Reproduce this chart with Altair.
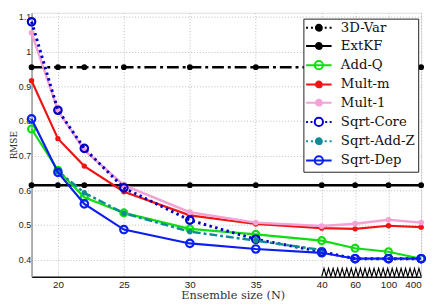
import altair as alt
import numpy as np
import pandas as pd

# ---------------- data ----------------
ensemble_sizes = [18, 20, 22, 25, 30, 35, 40, 60, 100, 400]
x_tick_values = [20, 25, 30, 35, 40, 60, 100, 400]
y_tick_values = [0.4, 0.5, 0.6, 0.7, 0.8, 0.9, 1.0, 1.1]

series_names = ["3D-Var", "ExtKF", "Add-Q", "Mult-m", "Mult-1",
                "Sqrt-Core", "Sqrt-Add-Z", "Sqrt-Dep"]

rmse_3dvar = [0.955, 0.955, 0.955, 0.955, 0.955, 0.955, 0.955, 0.955, 0.955, 0.955]
rmse_extkf = [0.615, 0.615, 0.615, 0.615, 0.615, 0.615, 0.615, 0.615, 0.615, 0.615]
rmse_addq = [0.777, 0.658, 0.580, 0.535, 0.489, 0.473, 0.455, 0.433, 0.423, 0.403]
rmse_multm = [0.916, 0.749, 0.670, 0.596, 0.528, 0.503, 0.491, 0.489, 0.498, 0.494]
rmse_mult1 = [1.054, 0.830, 0.716, 0.615, 0.537, 0.507, 0.497, 0.504, 0.515, 0.507]
rmse_sqrtcore = [1.086, 0.831, 0.721, 0.607, 0.514, 0.459, 0.423, 0.403, 0.403, 0.403]
sizes_sqrtaddz = [20, 22, 25, 30, 35, 40]
rmse_sqrtaddz = [0.655, 0.593, 0.534, 0.481, 0.455, 0.428]
rmse_sqrtdep = [0.806, 0.652, 0.561, 0.487, 0.447, 0.431, 0.420, 0.403, 0.403, 0.403]

series_x = [ensemble_sizes] * 5 + [ensemble_sizes, sizes_sqrtaddz, ensemble_sizes]
series_y = [rmse_3dvar, rmse_extkf, rmse_addq, rmse_multm, rmse_mult1,
            rmse_sqrtcore, rmse_sqrtaddz, rmse_sqrtdep]

# ---------------- styles ----------------
colors = ["#000000", "#000000", "#10dd10", "#f01414", "#f4a2d6",
          "#0000c8", "#0e8c96", "#0a1ef0"]
dashes = [[12, 4, 3, 4], None, None, None, None, [2.5, 3.5], [8, 3, 3, 3], None]
line_widths = [2.5, 2.5, 2.2, 2.2, 2.5, 3, 2.5, 2.2]
marker_filled = [True, True, False, True, True, False, True, False]
marker_sizes = [34, 34, 50, 30, 34, 58, 30, 58]
fill_range = ["#000000", "#000000", "transparent", "#f01414", "#f4a2d6",
              "transparent", "#0e8c96", "transparent"]

# legend symbols: line + marker glyphs (unit = 5.5 px)
U = 5.5
def seg(a, b):
    return f"M{a / U:.3f},0H{b / U:.3f}"
def circ(r_px):
    r = r_px / U
    return f"M{r:.3f},0A{r:.3f},{r:.3f},0,1,1,{-r:.3f},0A{r:.3f},{r:.3f},0,1,1,{r:.3f},0Z"
solid = seg(-13, 13)
dotted = seg(-13, -11) + seg(-8, -6) + seg(-3, 3) + seg(6, 8) + seg(11, 13)
dotted_open = seg(-13, -11) + seg(-8.5, -6.5) + seg(6.5, 8.5) + seg(11, 13)
legend_paths = [dotted + circ(3.0), solid + circ(3.0), solid + circ(4.2),
                solid + circ(3.0), solid + circ(3.0), dotted_open + circ(4.2),
                dotted + circ(3.0), solid + circ(4.2)]

# ---------------- scales / encodings ----------------
x_scale = alt.Scale(domain=[18, 40, 60, 100, 400],
                    range=[0, 295.7, 329.7, 363.7, 397], nice=False, zero=False)
y_scale = alt.Scale(domain=[0.351, 1.112], nice=False, zero=False)

x_axis = alt.Axis(values=x_tick_values, format="d", title="Ensemble size (N)",
                  grid=True, gridDash=[1, 2], gridColor="#bdbdbd", ticks=False,
                  labelFont="Liberation Sans", labelFontSize=10, labelColor="#222222",
                  labelPadding=3, titleFont="DejaVu Serif", titleFontSize=11.5,
                  titleFontWeight="normal", titleColor="#333333",
                  titleX=205, titleY=22.5, titleBaseline="alphabetic", titleAlign="center",
                  domainColor="#111111", domainWidth=1.5)
y_axis = alt.Axis(values=y_tick_values, format=".1~f", title="RMSE",
                  grid=True, gridDash=[1, 2], gridColor="#bdbdbd", ticks=False,
                  labelFont="Liberation Sans", labelFontSize=9, labelColor="#222222",
                  labelPadding=1, titleFont="DejaVu Serif", titleFontSize=9,
                  titleFontWeight="normal", titleColor="#333333",
                  titleX=-15.6, titleY=134.5, titleBaseline="alphabetic",
                  titleAlign="center", titleAngle=270,
                  domainColor="#999999", domainWidth=1.5)

X = alt.X("N:Q", scale=x_scale, axis=x_axis)
Y = alt.Y("RMSE:Q", scale=y_scale, axis=y_axis)

layers = []
for i, name in enumerate(series_names):
    df = pd.DataFrame({"N": series_x[i], "RMSE": series_y[i]})
    line_kw = dict(color=colors[i], strokeWidth=line_widths[i], strokeCap="butt")
    if dashes[i] is not None:
        line_kw["strokeDash"] = dashes[i]
    layers.append(alt.Chart(df).mark_line(**line_kw).encode(x=X, y=Y))
    layers.append(alt.Chart(df).mark_point(
        shape="circle", filled=marker_filled[i], color=colors[i],
        size=marker_sizes[i], strokeWidth=2.2, opacity=1).encode(x=X, y=Y))

# axis-break zigzag between 40 and 400
n_teeth = 22
t = np.linspace(0, 3, 2 * n_teeth + 1)
zig = pd.DataFrame({
    "N": np.interp(t, [0, 1, 2, 3], [40, 60, 100, 400]),
    "RMSE": [0.352 if k % 2 == 0 else 0.375 for k in range(len(t))],
})
layers.append(alt.Chart(zig).mark_line(color="#000000", strokeWidth=1.2).encode(x=X, y=Y))

# legend (drawn from scales; no marks)
legend = alt.Legend(orient="none", legendX=277, legendY=6, title=None,
                    fillColor="white", strokeColor="#222222", padding=2.5,
                    symbolSize=121, symbolStrokeWidth=2, symbolOffset=6.5,
                    labelOffset=15.7, labelFont="DejaVu Serif", labelFontSize=13.5,
                    labelColor="#111111", rowPadding=3.6)
legend_df = pd.DataFrame({"series": series_names})
legend_layer = alt.Chart(legend_df).transform_filter("false").mark_point(
    filled=False, strokeWidth=2, opacity=1, size=121).encode(
    color=alt.Color("series:N", scale=alt.Scale(domain=series_names, range=colors), legend=legend),
    fill=alt.Fill("series:N", scale=alt.Scale(domain=series_names, range=fill_range), legend=legend),
    shape=alt.Shape("series:N", scale=alt.Scale(domain=series_names, range=legend_paths), legend=legend),
)
layers.append(legend_layer)

chart = alt.layer(*layers).properties(
    width=397, height=269,
    autosize=alt.AutoSizeParams(type="none"),
    padding={"left": 24, "top": 2, "right": 8, "bottom": 28},
).configure_view(stroke="#666666", strokeWidth=1).configure(background="white")

chart.save("out.html", embed_options={"renderer": "svg", "actions": False})
